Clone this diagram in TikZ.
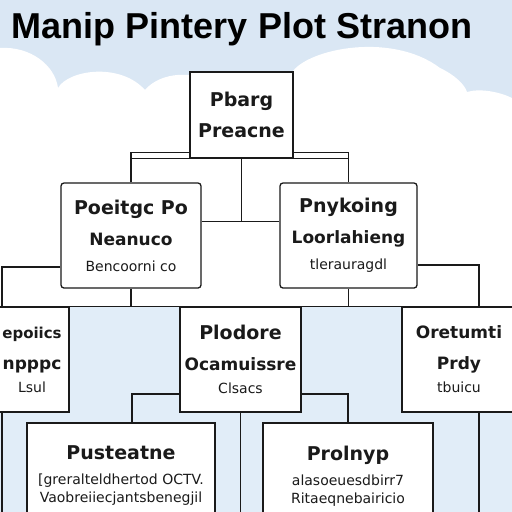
\documentclass[tikz,border=0pt]{standalone}
\usepackage{fontspec}
\setmainfont{DejaVu Sans}
\newfontfamily\titlefont{Liberation Sans}
\usetikzlibrary{positioning, calc, backgrounds}
\definecolor{sky}{HTML}{DAE7F4}
\definecolor{ground}{HTML}{E1EDF8}
\definecolor{ink}{HTML}{1A1A1A}

\pgfdeclarelayer{back}
\pgfsetlayers{back,background,main}

\newcommand{\lineA}[1]{{\fontsize{19}{23}\selectfont\bfseries #1}}
\newcommand{\lineB}[1]{{\fontsize{17}{21}\selectfont\bfseries #1}}
\newcommand{\lineC}[1]{{\fontsize{14}{17}\selectfont #1}}

\begin{document}
\begin{tikzpicture}[
    x=1pt, y=-1pt,
    box/.style={draw=ink, line width=1.3pt, fill=white, align=center, inner sep=0pt, text=ink, font=\fontsize{17}{31}\selectfont},
    rbox/.style={box, rounded corners=3pt},
    link/.style={draw=ink, line width=1.3pt}
]
\useasboundingbox (0,0) rectangle (512,512);
\clip (0,0) rectangle (512,512);

% Sky, clouds and lower band
\begin{pgfonlayer}{back}
\fill[sky] (0,0) rectangle (512,512);
\fill[white] (0,307) -- (0,48) .. controls (30,46) and (55,65) .. (58,88)
    .. controls (68,70) and (120,62) .. (145,90)
    .. controls (155,78) and (175,72) .. (195,76) -- (290,76)
    .. controls (300,50) and (390,30) .. (440,68)
    .. controls (455,75) and (465,85) .. (467,92)
    .. controls (480,88) and (500,92) .. (512,98) -- (512,307) -- cycle;
\fill[ground] (0,307) rectangle (512,512);
\end{pgfonlayer}

% Title
\node[text=black, font={\titlefont\bfseries\fontsize{36}{40}\selectfont}] (title) at (242,29) {Manip Pintery Plot Stranon};

% Top
\node[box, minimum width=103pt, minimum height=86pt] (top) at (241.5,115) {\lineA{Pbarg}\\\lineA{Preacne}};

% Middle row
\node[rbox, minimum width=140pt, minimum height=105pt] (midL) at (131,235.5) {\lineA{Poeitgc Po}\\\lineB{Neanuco}\\[-5pt]\lineC{Bencoorni co}};
\node[rbox, minimum width=137pt, minimum height=105pt] (midR) at (348.5,235.5) {\lineA{Pnykoing}\\\lineB{Loorlahieng}\\[-5pt]\lineC{tlerauragdl}};

% Lower row
\node[box, minimum width=74pt, minimum height=105pt] (lowL) at (32,359.5) {{\fontsize{15}{23}\selectfont\bfseries epoiics}\\\lineB{npppc}\\[-8pt]\lineC{Lsul}};
\node[box, minimum width=121pt, minimum height=105pt] (lowC) at (240.5,359.5) {\lineA{Plodore}\\\lineB{Ocamuissre}\\[-8pt]\lineC{Clsacs}};
\node[box, minimum width=114pt, minimum height=105pt] (lowR) at (459,359.5) {{\fontsize{17}{23}\selectfont\bfseries Oretumti}\\\lineB{Prdy}\\[-8pt]\lineC{tbuicu}};

% Bottom row
\node[box, minimum width=188pt, minimum height=106pt] (botL) at (121,476) {\lineA{Pusteatne}\\[-6pt]\lineC{[greralteldhertod OCTV.}\\[-13pt]\lineC{Vaobreiiecjantsbenegjil}};
\node[box, minimum width=170pt, minimum height=106pt] (botR) at (348,476) {\lineA{Prolnyp}\\[-6pt]\lineC{alasoeuesdbirr7}\\[-13pt]\lineC{Ritaeqnebairicio}};

\coordinate (edgeL) at (2,307);
\coordinate (edgeR) at (479,307);

% Connectors
\begin{scope}[on background layer]
\draw[link] (midL.north) -- ++(0,-30) -| (midR.north);
\draw[link] ($(midL.north)+(0,-24)$) -- ($(midR.north)+(0,-24)$);
\draw[link] (top.south) -- ++(0,63) coordinate (hub);
\draw[link] (midL.east |- hub) -- (midR.west |- hub);
\draw[link] (midL.west) ++(0,31.5) -| (edgeL);
\draw[link] (midR.east) ++(0,29.5) -| (edgeR);
\draw[link] (midL.south) -- (midL.south |- lowC.north);
\draw[link] (midR.south) -- (midR.south |- lowC.north);
\draw[link] (lowL.north east) -- (lowC.north west) (lowC.north east) -- (lowR.north west);
\draw[link] (lowC.west) ++(0,34.5) -| ([xshift=11pt]botL.north);
\draw[link] (lowC.east) ++(0,34.5) -| (botR.north);
\draw[link] (lowL.south -| edgeL) -- ++(0,110);
\draw[link] (lowC.south) -- ++(0,110);
\draw[link] (lowR.south -| edgeR) -- ++(0,110);
\end{scope}

\end{tikzpicture}
\end{document}
